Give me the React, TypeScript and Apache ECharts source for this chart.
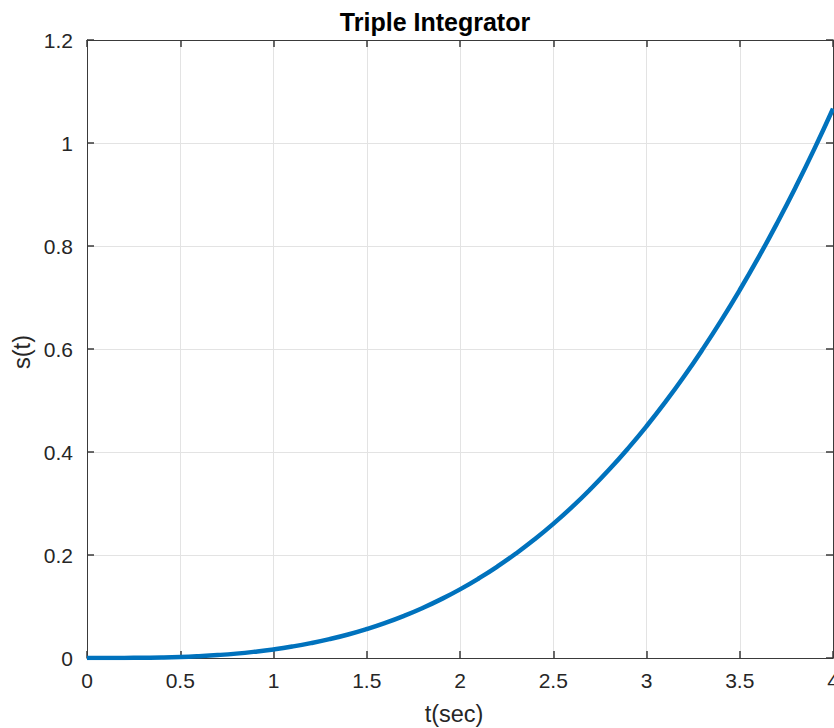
import React, { useEffect, useRef } from "react";
import * as echarts from "echarts";

const tValues = [0, 0.1, 0.2, 0.3, 0.4, 0.5, 0.6, 0.7, 0.8, 0.9, 1.0, 1.1, 1.2, 1.3, 1.4, 1.5, 1.6, 1.7, 1.8, 1.9, 2.0, 2.1, 2.2, 2.3, 2.4, 2.5, 2.6, 2.7, 2.8, 2.9, 3.0, 3.1, 3.2, 3.3, 3.4, 3.5, 3.6, 3.7, 3.8, 3.9, 4.0];
const sValues = [0, 0.0000, 0.0001, 0.0005, 0.001, 0.002, 0.0036, 0.0057, 0.0085, 0.0122, 0.0167, 0.0222, 0.0288, 0.0366, 0.0457, 0.0563, 0.0683, 0.0819, 0.0972, 0.1143, 0.1333, 0.1544, 0.1775, 0.2028, 0.2304, 0.2604, 0.2929, 0.3281, 0.3659, 0.4065, 0.45, 0.4965, 0.5461, 0.599, 0.6551, 0.7146, 0.7776, 0.8442, 0.9145, 0.9886, 1.0667];

const titleText = "Triple Integrator";
const xAxisName = "t(sec)";
const yAxisName = "s(t)";

const FONT = "'Liberation Sans', Arial, Helvetica, sans-serif";
const AXIS_COLOR = "#3a3a3a";
const TEXT_COLOR = "#262626";

export default function App() {
  const ref = useRef<HTMLDivElement>(null);
  useEffect(() => {
    if (!ref.current) return;
    const chart = echarts.init(ref.current, undefined, { renderer: "svg" });
    const data = tValues.map((t, i) => [t, sValues[i]]);
    const xCommon = {
      type: "value" as const,
      min: 0,
      max: 4,
      interval: 0.5,
      axisLine: { show: true, onZero: false, lineStyle: { color: AXIS_COLOR, width: 1 } },
      axisTick: { show: true, inside: true, length: 7, lineStyle: { color: AXIS_COLOR, width: 1.5 } },
    };
    const yCommon = {
      type: "value" as const,
      min: 0,
      max: 1.2,
      interval: 0.2,
      axisLine: { show: true, onZero: false, lineStyle: { color: AXIS_COLOR, width: 1 } },
      axisTick: { show: true, inside: true, length: 7, lineStyle: { color: AXIS_COLOR, width: 1.5 } },
    };
    chart.setOption({
      animation: false,
      backgroundColor: "#ffffff",
      grid: {
        left: 87,
        top: 40,
        right: 1,
        bottom: 70,
        containLabel: false,
        outerBoundsMode: "none",
      },
      xAxis: [
        {
          ...xCommon,
          position: "bottom",
          axisLabel: {
            show: true,
            margin: 12,
            fontSize: 21,
            color: TEXT_COLOR,
            fontFamily: FONT,
            hideOverlap: false,
            formatter: (v: number) => String(v),
          },
          splitLine: { show: true, lineStyle: { color: "#e3e3e3", width: 1 } },
        },
        {
          ...xCommon,
          position: "top",
          axisLabel: { show: false },
          splitLine: { show: false },
        },
      ],
      yAxis: [
        {
          ...yCommon,
          position: "left",
          axisLabel: {
            show: true,
            margin: 14,
            fontSize: 21,
            color: TEXT_COLOR,
            fontFamily: FONT,
            formatter: (v: number) => String(Math.round(v * 10) / 10),
          },
          splitLine: { show: true, lineStyle: { color: "#e3e3e3", width: 1 } },
        },
        {
          ...yCommon,
          position: "right",
          axisLabel: { show: false },
          splitLine: { show: false },
        },
      ],
      series: [
        {
          type: "line",
          xAxisIndex: 0,
          yAxisIndex: 0,
          data,
          smooth: true,
          showSymbol: false,
          lineStyle: { color: "#0072BD", width: 4.5 },
          z: 5,
        },
      ],
      graphic: [
        {
          type: "text",
          x: 435,
          y: 22,
          style: {
            text: titleText,
            font: `bold 25px ${FONT}`,
            fill: "#000000",
            align: "center",
            verticalAlign: "middle",
          },
        },
        {
          type: "text",
          x: 454,
          y: 714,
          style: {
            text: xAxisName,
            font: `23.5px ${FONT}`,
            fill: TEXT_COLOR,
            align: "center",
            verticalAlign: "middle",
          },
        },
        {
          type: "text",
          x: 22,
          y: 352,
          rotation: Math.PI / 2,
          style: {
            text: yAxisName,
            font: `23.5px ${FONT}`,
            fill: TEXT_COLOR,
            align: "center",
            verticalAlign: "middle",
          },
        },
      ],
    });
    return () => chart.dispose();
  }, []);
  return (
    <div
      ref={ref}
      style={{ position: "fixed", left: 0, top: 0, width: 834, height: 728 }}
    />
  );
}
